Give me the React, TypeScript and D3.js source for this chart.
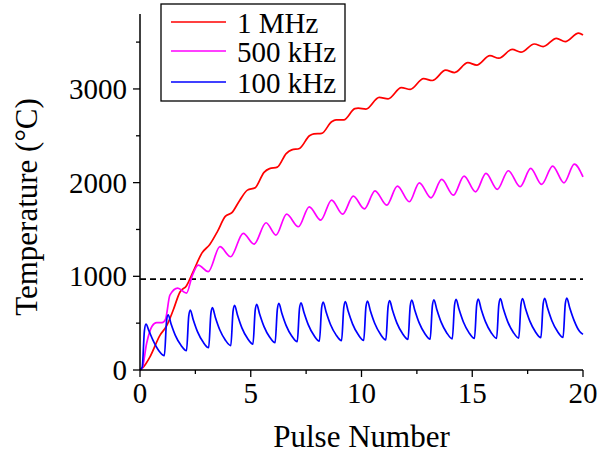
import React from 'react'
import * as d3 from 'd3'

// axis ticks
const xTicks = [0, 5, 10, 15, 20]
const xMinor = [2.5, 7.5, 12.5, 17.5]
const yTicks = [0, 1000, 2000, 3000]
const yMinor = [500, 1500, 2500, 3500]
const threshold = 970

const legendLabels = ['1 MHz', '500 kHz', '100 kHz']
const colors = ['#ff0000', '#ff00ff', '#0000ff']

// 1 MHz
const redX = [0, 0.15, 0.45, 0.9, 1.2, 1.5, 1.8, 2.1, 2.4, 2.8, 3.15, 3.5, 3.85, 4.15, 4.5, 4.85, 5.2, 5.6, 5.85, 6.2, 6.6, 6.85, 7.2, 7.65, 7.85, 8.2, 8.65, 8.85, 9.2, 9.7, 9.85, 10.2, 10.8, 11.2, 11.8, 12.2, 12.8, 13.2, 13.8, 14.2, 14.8, 15.2, 15.8, 16.2, 16.8, 17.2, 17.8, 18.2, 18.8, 19.2, 19.8, 20]
const redY = [0, 30, 140, 370, 470, 640, 830, 900, 1050, 1250, 1340, 1480, 1640, 1680, 1810, 1920, 1945, 2110, 2150, 2165, 2310, 2350, 2365, 2500, 2520, 2525, 2650, 2670, 2670, 2790, 2795, 2785, 2910, 2895, 3015, 2995, 3110, 3090, 3200, 3175, 3280, 3255, 3355, 3328, 3422, 3392, 3480, 3452, 3540, 3505, 3595, 3575]

// 500 kHz
const magX = [0, 0.1, 0.3, 0.55, 0.75, 1.0, 1.15, 1.35, 1.7, 2.1, 2.35, 2.63, 3.08, 3.61, 4.09, 4.66, 5.15, 5.69, 6.14, 6.62, 7.15, 7.64, 8.16, 8.65, 9.15, 9.63, 10.13, 10.61, 11.14, 11.62, 12.16, 12.61, 13.14, 13.62, 14.15, 14.63, 15.15, 15.62, 16.13, 16.63, 17.16, 17.64, 18.13, 18.63, 19.14, 19.61, 20]
const magY = [0, 20, 285, 470, 505, 505, 540, 800, 875, 820, 1000, 1120, 1050, 1316, 1209, 1458, 1344, 1572, 1440, 1664, 1529, 1742, 1600, 1814, 1664, 1856, 1720, 1913, 1760, 1963, 1796, 1998, 1838, 2034, 1867, 2070, 1902, 2098, 1928, 2127, 1956, 2152, 1981, 2177, 1998, 2198, 2062]

// 100 kHz: one row per pulse, values at pulse + offset
const pulseOffsets = [0.1, 0.2, 0.27, 0.4, 0.6, 0.85]
const bluePulses = [
  [30, 421, 490, 420, 310, 205],
  [153, 524, 590, 494, 367, 264],
  [206, 575, 640, 540, 407, 298],
  [238, 601, 665, 564, 430, 321],
  [260, 626, 690, 587, 450, 339],
  [277, 637, 700, 598, 463, 352],
  [291, 648, 711, 609, 474, 363],
  [302, 656, 718, 616, 481, 370],
  [309, 663, 725, 622, 486, 375],
  [313, 667, 730, 626, 490, 378],
  [316, 673, 736, 632, 496, 384],
  [322, 677, 740, 637, 500, 389],
  [327, 684, 747, 643, 505, 393],
  [330, 687, 750, 646, 508, 396],
  [333, 691, 754, 650, 512, 399],
  [336, 694, 757, 652, 514, 401],
  [338, 698, 761, 656, 517, 404],
  [341, 700, 763, 659, 521, 408],
  [345, 702, 765, 661, 523, 410],
  [347, 705, 768, 664, 527, 410],
]
const blueStart = [0, 0]
const blueEnd = [20, 380]

const W = 598
const H = 457
const font = "'Liberation Serif', serif"

export default function App() {
  const x = d3.scaleLinear().domain([0, 20]).range([140, 583])
  const y = d3.scaleLinear().domain([0, 3800]).range([370, 14])

  const line = d3
    .line<number[]>()
    .x(d => x(d[0]))
    .y(d => y(d[1]))
    .curve(d3.curveMonotoneX)

  const red = redX.map((t, i) => [t, redY[i]])
  const mag = magX.map((t, i) => [t, magY[i]])
  const blue = [
    blueStart,
    ...bluePulses.flatMap((row, n) => row.map((v, i) => [n + pulseOffsets[i], v])),
    blueEnd,
  ]
  const series = [red, mag, blue]
  const txt = { fontFamily: font }

  return (
    <svg
      width={W}
      height={H}
      style={{ position: 'absolute', left: 0, top: 0, background: '#fff', fontFamily: font }}
    >
      <line x1={x(0)} x2={x(20)} y1={y(threshold)} y2={y(threshold)} stroke="#000" strokeWidth={1.6} strokeDasharray="6 4" />

      {series.map((s, i) => (
        <path key={i} d={line(s) || ''} fill="none" stroke={colors[i]} strokeWidth={1.7} />
      ))}

      {/* axes */}
      <line x1={x(0)} x2={x(0)} y1={y(3800)} y2={y(0)} stroke="#000" strokeWidth={1.5} />
      <line x1={x(0)} x2={x(20)} y1={y(0)} y2={y(0)} stroke="#000" strokeWidth={1.5} />
      {yTicks.map(t => (
        <g key={t}>
          <line x1={x(0) - 7} x2={x(0)} y1={y(t)} y2={y(t)} stroke="#000" strokeWidth={1.3} />
          <text style={txt} x={127} y={y(t) + 10} textAnchor="end" fontSize={29}>{t}</text>
        </g>
      ))}
      {yMinor.map(t => (
        <line key={t} x1={x(0) - 4} x2={x(0)} y1={y(t)} y2={y(t)} stroke="#000" strokeWidth={1.3} />
      ))}
      {xTicks.map(t => (
        <g key={t}>
          <line x1={x(t)} x2={x(t)} y1={y(0)} y2={y(0) + 7} stroke="#000" strokeWidth={1.3} />
          <text style={txt} x={x(t)} y={403} textAnchor="middle" fontSize={29}>{t}</text>
        </g>
      ))}
      {xMinor.map(t => (
        <line key={t} x1={x(t)} x2={x(t)} y1={y(0)} y2={y(0) + 4} stroke="#000" strokeWidth={1.3} />
      ))}

      <text style={txt} x={361.5} y={447} textAnchor="middle" fontSize={31}>Pulse Number</text>
      <text style={txt} transform="translate(37,207) rotate(-90)" textAnchor="middle" fontSize={31}>Temperature (°C)</text>

      {/* legend */}
      <rect x={161} y={4} width={184} height={97} fill="#fff" stroke="#000" strokeWidth={1.3} />
      {legendLabels.map((l, i) => {
        const ly = [22, 51, 82][i]
        return (
          <g key={l}>
            <line x1={171} x2={226} y1={ly} y2={ly} stroke={colors[i]} strokeWidth={1.7} />
            <text style={txt} x={237} y={ly + 11} fontSize={29}>{l}</text>
          </g>
        )
      })}
    </svg>
  )
}
